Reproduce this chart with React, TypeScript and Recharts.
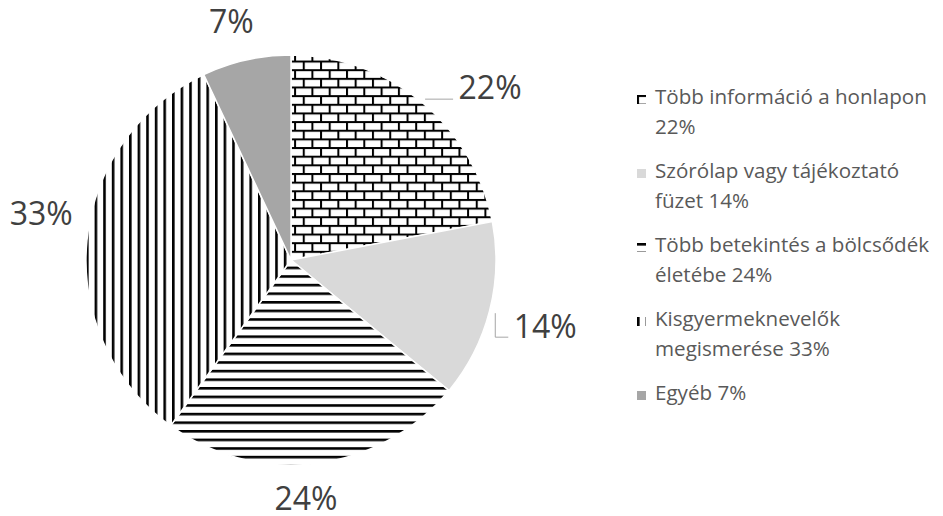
import { PieChart, Pie, Cell, Legend } from "recharts";

const NAMES = [
  "Több információ a honlapon",
  "Szórólap vagy tájékoztató füzet",
  "Több betekintés a bölcsődék életébe",
  "Kisgyermeknevelők megismerése",
  "Egyéb",
];
const VALUES = [22, 14, 24, 33, 7];

const FILLS = ["url(#brick)", "#d9d9d9", "url(#hstripe)", "url(#vstripe)", "#a6a6a6"];

// excel moved some labels by hand, so nudge them off the mid angle
const LABEL_TURN = [-9.6, -0.4, -3.6, -5, 1.5];
const LABEL_PUSH = [58, 58, 34, 49, 40];

const FONT = "'Open Sans', sans-serif";
const RAD = Math.PI / 180;

const data = NAMES.map((name, i) => ({ name, value: VALUES[i] }));

function renderLabel(props: any) {
  const { cx, cy, midAngle, outerRadius, index, value } = props;
  const a = (midAngle + LABEL_TURN[index]) * RAD;
  const r = outerRadius + LABEL_PUSH[index];
  const lx = cx + r * Math.cos(a);
  const ly = cy - r * Math.sin(a);
  return (
    <g>
      {index === 0 && (
        <line x1={lx - 65} y1={ly + 11} x2={lx - 37} y2={ly + 11} stroke="#a6a6a6" strokeWidth={1} />
      )}
      {index === 1 && (
        <polyline
          points={`${lx - 50},${ly - 14} ${lx - 50},${ly + 10} ${lx - 37},${ly + 10}`}
          fill="none"
          stroke="#a6a6a6"
          strokeWidth={1}
        />
      )}
      <text x={lx} y={ly + 11} textAnchor="middle" fontSize={32} fill="#404040" fontFamily={FONT}>
        {value}%
      </text>
    </g>
  );
}

function renderLegend() {
  return (
    <div style={{ fontFamily: FONT, fontSize: 20.6, lineHeight: "29.5px", color: "#595959" }}>
      {NAMES.map((name, i) => (
        <div key={name} style={{ position: "relative", paddingLeft: 20, marginBottom: 15 }}>
          <svg width={9} height={9} style={{ position: "absolute", left: 2, top: 13 }}>
            <rect x={0} y={0} width={9} height={9} fill={FILLS[i]} />
          </svg>
          {name} {VALUES[i]}%
        </div>
      ))}
    </div>
  );
}

export default function App() {
  return (
    <div style={{ position: "absolute", left: 0, top: 0, width: 943, height: 516, background: "#fff" }}>
      <PieChart width={943} height={516} margin={{ top: 0, right: 0, bottom: 0, left: 0 }}>
        <defs>
          <pattern id="brick" patternUnits="userSpaceOnUse" width={17.3} height={17.3}>
            <rect width={17.3} height={17.3} fill="#fff" />
            <rect x={0} y={0} width={17.3} height={2} fill="#000" />
            <rect x={0} y={8.65} width={17.3} height={2} fill="#000" />
            <rect x={0} y={0} width={2} height={8.65} fill="#000" />
            <rect x={8.65} y={8.65} width={2} height={8.65} fill="#000" />
          </pattern>
          <pattern id="hstripe" patternUnits="userSpaceOnUse" width={8.6} height={8.6}>
            <rect width={8.6} height={8.6} fill="#fff" />
            <rect x={0} y={0} width={8.6} height={2.6} fill="#000" />
          </pattern>
          <pattern id="vstripe" patternUnits="userSpaceOnUse" width={8.6} height={8.6}>
            <rect width={8.6} height={8.6} fill="#fff" />
            <rect x={0} y={0} width={2.6} height={8.6} fill="#000" />
          </pattern>
        </defs>
        <Pie
          data={data}
          dataKey="value"
          nameKey="name"
          cx={291}
          cy={260}
          outerRadius={205}
          startAngle={90}
          endAngle={-270}
          stroke="#fff"
          strokeWidth={1.5}
          label={renderLabel}
          labelLine={false}
          isAnimationActive={false}
        >
          {data.map((d, i) => (
            <Cell key={d.name} fill={FILLS[i]} />
          ))}
        </Pie>
        <Legend
          content={renderLegend}
          layout="vertical"
          wrapperStyle={{ position: "absolute", left: 635, top: 82, width: 300 }}
        />
      </PieChart>
    </div>
  );
}
